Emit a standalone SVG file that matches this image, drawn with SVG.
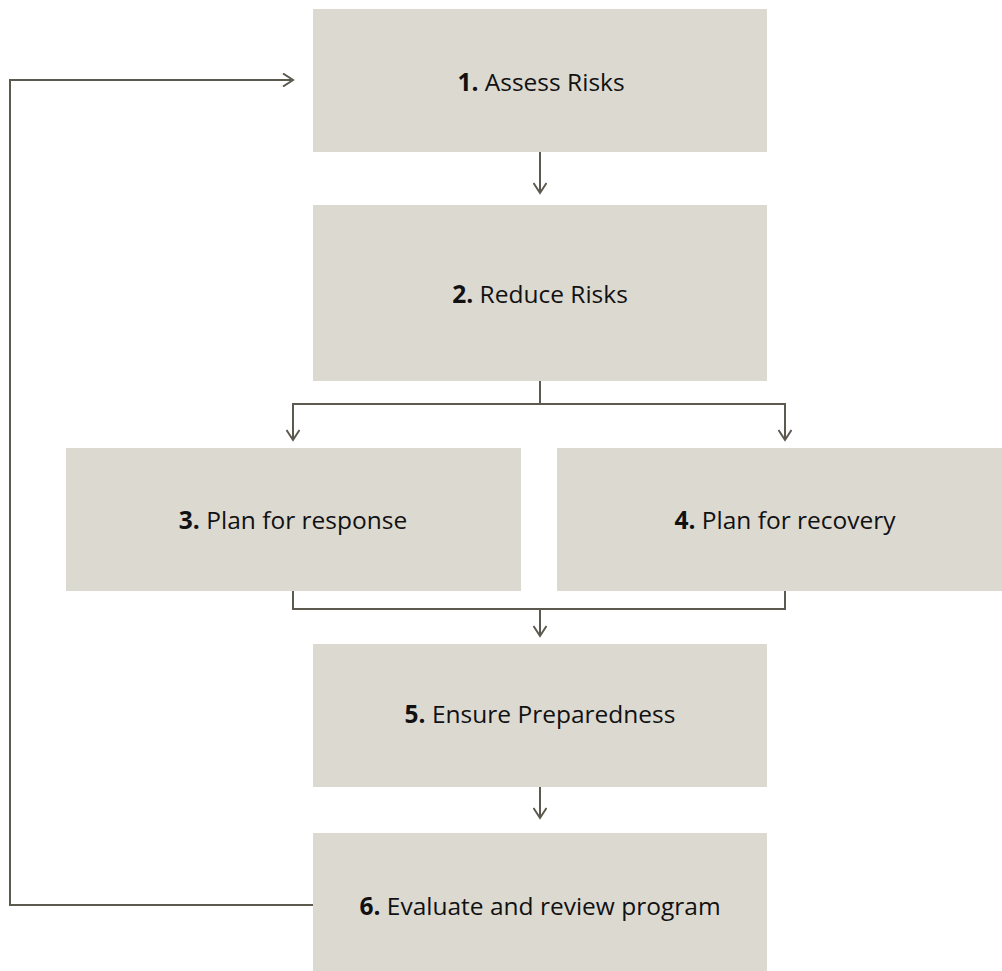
<svg xmlns="http://www.w3.org/2000/svg" width="1002" height="971" viewBox="0 0 1002 971">
<defs>
<marker id="ah" markerWidth="14" markerHeight="14" refX="11" refY="7" orient="auto" markerUnits="userSpaceOnUse">
<path d="M1,0.5 L11,7 L1,13.5" fill="none" stroke="#5c5a4f" stroke-width="2"/>
</marker>
<style>
.box{fill:#dcd9d1}
.lbl{font-family:"Open Sans","Noto Sans",sans-serif;font-size:24.5px;fill:#111111;text-anchor:middle}
.lbl tspan.n{font-weight:bold}
.con{fill:none;stroke:#5c5a4f;stroke-width:2}
</style>
</defs>
<rect width="1002" height="971" fill="#ffffff"/>
<g id="node1"><rect class="box" x="313" y="9" width="454" height="143"/><text class="lbl" x="541" y="91"><tspan class="n">1.</tspan> Assess Risks</text></g>
<g id="node2"><rect class="box" x="313" y="205" width="454" height="176"/><text class="lbl" x="540" y="303"><tspan class="n">2.</tspan> Reduce Risks</text></g>
<g id="node3"><rect class="box" x="66" y="448" width="455" height="143"/><text class="lbl" x="293" y="529"><tspan class="n">3.</tspan> Plan for response</text></g>
<g id="node4"><rect class="box" x="557" y="448" width="455" height="143"/><text class="lbl" x="785" y="529"><tspan class="n">4.</tspan> Plan for recovery</text></g>
<g id="node5"><rect class="box" x="313" y="644" width="454" height="143"/><text class="lbl" x="540" y="723"><tspan class="n">5.</tspan> Ensure Preparedness</text></g>
<g id="node6"><rect class="box" x="313" y="833" width="454" height="138"/><text class="lbl" x="540" y="915"><tspan class="n">6.</tspan> Evaluate and review program</text></g>
<g id="connectors">
<path class="con" d="M540,152 V193" marker-end="url(#ah)"/>
<path class="con" d="M540,381 V404 H293 V440" marker-end="url(#ah)"/>
<path class="con" d="M540,404 H785 V440" marker-end="url(#ah)"/>
<path class="con" d="M293,591 V609 H785 V591"/>
<path class="con" d="M540,609 V636" marker-end="url(#ah)"/>
<path class="con" d="M540,787 V818" marker-end="url(#ah)"/>
<path class="con" d="M313,905 H10 V80 H293" marker-end="url(#ah)"/>
</g>
</svg>
